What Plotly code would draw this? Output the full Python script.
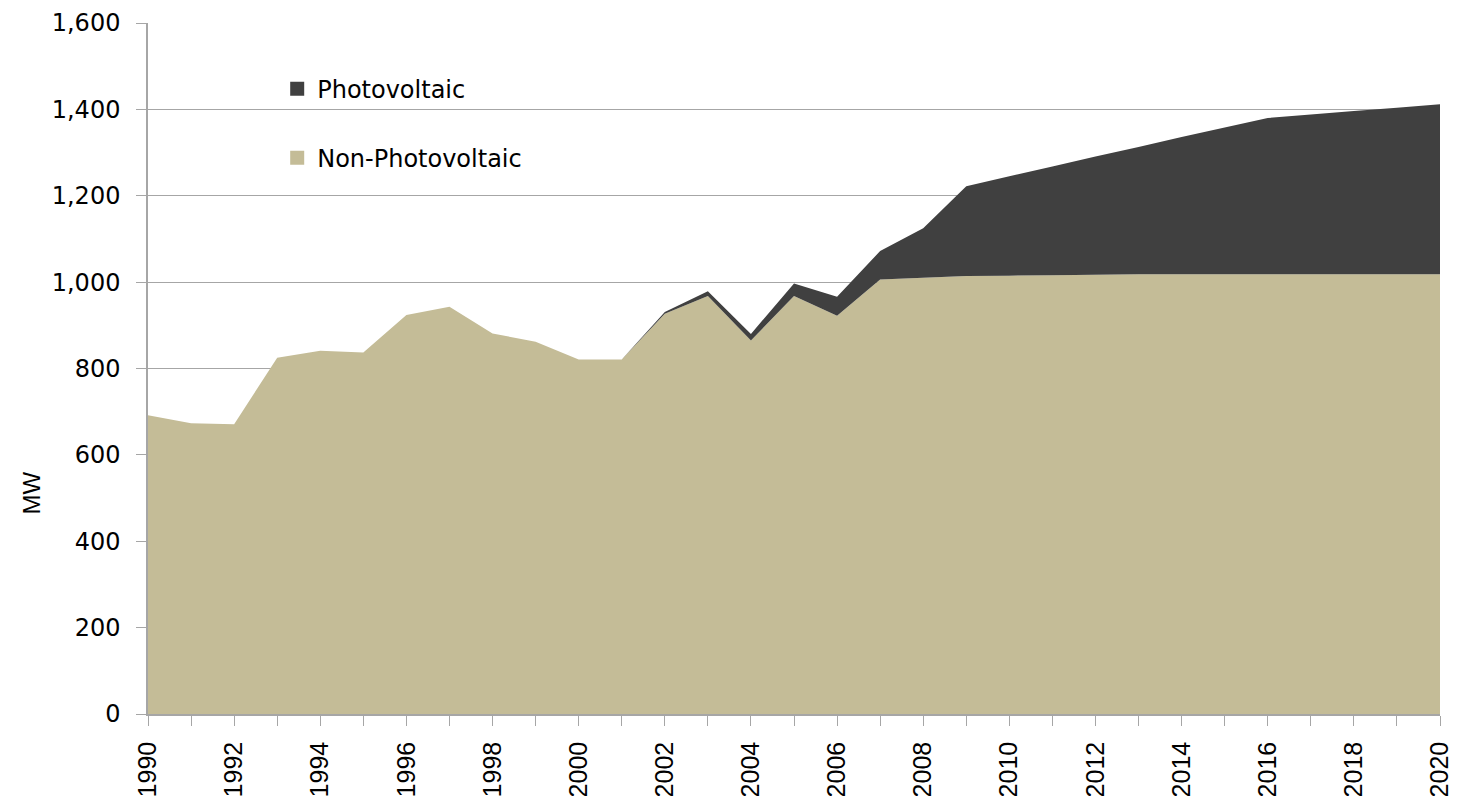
import plotly.graph_objects as go

# Installed capacity (MW)
years = list(range(1990, 2021))
non_pv = [692, 673, 671, 825, 841, 837, 924, 943, 881, 862,
          821, 821, 927, 968, 865, 968, 922, 1006, 1010, 1014,
          1015, 1016, 1017, 1018, 1018, 1018, 1018, 1018, 1018, 1018,
          1018]
pv = [0, 0, 0, 0, 0, 0, 0, 0, 0, 0,
      0, 0, 4, 11, 15, 29, 44, 66, 115, 208,
      230, 252, 274, 295, 318, 340, 362, 370, 378, 386,
      394]

_COLOUR_NONPV = "#C4BC97"
_COLOUR_PV = "#404040"
_GRID = "#A6A6A6"
_FONT = "DejaVu Sans"

fig = go.Figure()
fig.add_trace(
    go.Scatter(
        x=years, y=non_pv, name="Non-Photovoltaic", stackgroup="one",
        mode="none", fillcolor=_COLOUR_NONPV, showlegend=False,
    )
)
fig.add_trace(
    go.Scatter(
        x=years, y=pv, name="Photovoltaic", stackgroup="one",
        mode="none", fillcolor=_COLOUR_PV, showlegend=False,
    )
)

# Legend entries with square swatches (no data drawn)
for name, colour, group in [("Photovoltaic", _COLOUR_PV, "a"),
                            ("Non-Photovoltaic", _COLOUR_NONPV, "b")]:
    fig.add_trace(
        go.Scatter(
            x=[None], y=[None], mode="markers", name=name, legendgroup=group,
            marker={"symbol": "square", "size": 14, "color": colour},
        )
    )

fig.add_annotation(
    text="MW", textangle=-90, showarrow=False,
    xref="paper", yref="paper", x=-0.09, y=0.32,
    xanchor="center", yanchor="middle",
    font={"family": "Liberation Sans", "size": 24, "color": "#000000"},
)

# page body adds an 8px offset, so margins are set relative to that
fig.update_layout(
    width=1459,
    height=796,
    margin={"l": 140, "r": 27, "t": 15, "b": 90},
    plot_bgcolor="white",
    paper_bgcolor="white",
    legend={
        "x": 0.1, "y": 0.937, "xanchor": "left", "yanchor": "top",
        "bgcolor": "rgba(0,0,0,0)", "traceorder": "grouped",
        "tracegroupgap": 35, "itemwidth": 30,
        "font": {"family": _FONT, "size": 24, "color": "#000000"},
    },
    xaxis={
        "range": [1990, 2020],
        "automargin": False,
        "tickmode": "linear", "tick0": 1990, "dtick": 2,
        "tickangle": -90,
        "ticks": "outside", "ticklen": 10, "tickcolor": _GRID,
        "ticklabelstandoff": 6,
        "ticklabeloverflow": "allow",
        "minor": {"dtick": 1, "ticks": "outside", "ticklen": 10, "tickcolor": _GRID, "showgrid": False},
        "showgrid": False,
        "showline": True, "linecolor": _GRID, "linewidth": 1.5,
        "tickfont": {"family": "Liberation Sans", "size": 25, "color": "#000000"},
        "zeroline": False,
    },
    yaxis={
        "range": [0, 1600],
        "automargin": False,
        "dtick": 200,
        "tickformat": ",",
        "ticks": "outside", "ticklen": 10, "tickcolor": _GRID,
        "ticklabelstandoff": 11,
        "ticklabeloverflow": "allow",
        "showgrid": True, "gridcolor": _GRID, "gridwidth": 1.2,
        "showline": True, "linecolor": _GRID, "linewidth": 1.5,
        "tickfont": {"family": _FONT, "size": 24, "color": "#000000"},
        "zeroline": False,
    },
)

fig.write_html("out.html")
